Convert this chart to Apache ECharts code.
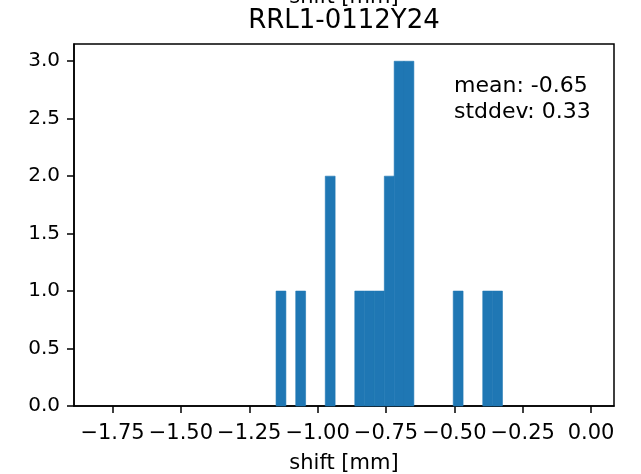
<!DOCTYPE html>
<html>
<head>
<meta charset="utf-8">
<script src="https://cdn.jsdelivr.net/npm/echarts@6/dist/echarts.min.js"></script>
<style>
  html, body { margin: 0; padding: 0; background: #fff; }
  #chart { width: 641px; height: 474px; }
</style>
</head>
<body>
<div id="chart"></div>
<script>
// Histogram of shifts: occupied bins (edges in mm) and their counts
const binLo  = [-1.152, -1.080, -0.972, -0.864, -0.828, -0.792, -0.756, -0.720, -0.684, -0.504, -0.396, -0.360];
const binHi  = [-1.116, -1.044, -0.936, -0.828, -0.792, -0.756, -0.720, -0.684, -0.648, -0.468, -0.360, -0.324];
const counts = [1, 1, 2, 1, 1, 1, 2, 3, 3, 1, 1, 1];

const xTicks = [-1.75, -1.5, -1.25, -1.0, -0.75, -0.5, -0.25, 0.0];
const yTicks = [0, 0.5, 1.0, 1.5, 2.0, 2.5, 3.0];

const titleText = 'RRL1-0112Y24';
const statLines = ['mean: -0.65', 'stddev: 0.33'];

const FONT = '"DejaVu Sans", sans-serif';
const BLUE = '#1f77b4';

const chart = echarts.init(document.getElementById('chart'), null, { renderer: 'canvas' });

const data = binLo.map((lo, i) => [lo, binHi[i], counts[i]]);

const minus = s => s.replace('-', '\u2212');

chart.setOption({
  animation: false,
  backgroundColor: '#fff',
  grid: {
    left: 74, right: 27, top: 44, bottom: 68,
    outerBoundsMode: 'none',
    containLabel: false,
    show: true, borderColor: '#000', borderWidth: 1.5, backgroundColor: 'transparent'
  },
  xAxis: {
    type: 'value',
    min: -1.891, max: 0.084,
    name: 'shift [mm]',
    nameLocation: 'middle',
    nameGap: 47,
    nameTextStyle: { fontFamily: FONT, fontSize: 21, color: '#000' },
    splitLine: { show: false },
    axisLine: { show: true, onZero: false, lineStyle: { color: '#000', width: 1.5 } },
    axisTick: { show: true, inside: false, length: 7, customValues: xTicks, lineStyle: { color: '#000', width: 1.5 } },
    axisLabel: {
      customValues: xTicks,
      margin: 17,
      hideOverlap: false,
      fontFamily: FONT, fontSize: 21, color: '#000',
      formatter: v => minus(v.toFixed(2))
    }
  },
  yAxis: {
    type: 'value',
    min: 0, max: 3.15,
    splitLine: { show: false },
    axisLine: { show: true, onZero: false, lineStyle: { color: '#000', width: 1.5 } },
    axisTick: { show: true, inside: false, length: 7, customValues: yTicks, lineStyle: { color: '#000', width: 1.5 } },
    axisLabel: {
      customValues: yTicks,
      margin: 14,
      fontFamily: FONT, fontSize: 20, color: '#000',
      formatter: v => minus(v.toFixed(1))
    }
  },
  series: [{
    type: 'custom',
    data: data,
    encode: { x: [0, 1], y: 2 },
    renderItem: (params, api) => {
      const p0 = api.coord([api.value(0), 0]);
      const p1 = api.coord([api.value(1), api.value(2)]);
      return {
        type: 'rect',
        shape: { x: p0[0], y: p1[1], width: p1[0] - p0[0], height: p0[1] - p1[1] },
        style: { fill: BLUE, stroke: BLUE, lineWidth: 0.6 }
      };
    }
  }],
  graphic: [
    {
      type: 'text', x: 344, y: 8,
      style: { text: 'shift [mm]', fontFamily: FONT, fontSize: 21, fill: '#000', textAlign: 'center', textVerticalAlign: 'bottom' }
    },
    {
      type: 'text', x: 344, y: 21,
      style: { text: titleText, fontFamily: FONT, fontSize: 26, fill: '#000', textAlign: 'center', textVerticalAlign: 'middle' }
    },
    {
      type: 'text', x: 454, y: 86,
      style: { text: statLines[0], fontFamily: FONT, fontSize: 22, fill: '#000', textAlign: 'left', textVerticalAlign: 'middle' }
    },
    {
      type: 'text', x: 454, y: 112,
      style: { text: statLines[1], fontFamily: FONT, fontSize: 22, fill: '#000', textAlign: 'left', textVerticalAlign: 'middle' }
    }
  ]
});
</script>
</body>
</html>
